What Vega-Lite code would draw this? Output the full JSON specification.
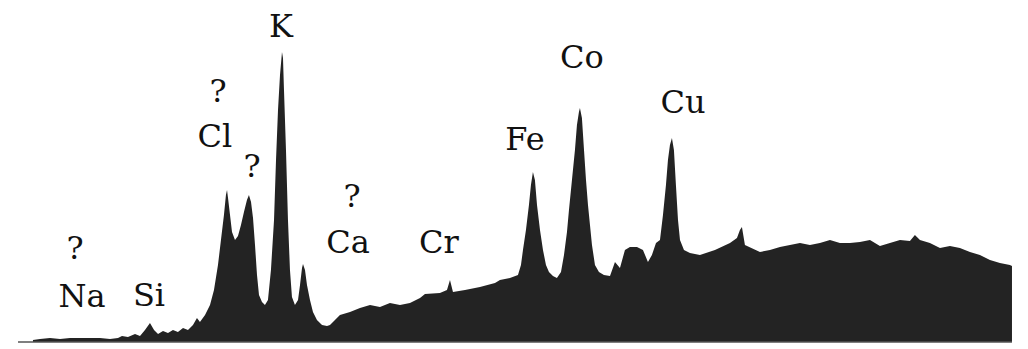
{
  "$schema": "https://vega.github.io/schema/vega-lite/v6.json",
  "width": 1028,
  "height": 349,
  "autosize": {"type": "fit", "contains": "padding"},
  "padding": 0,
  "background": "white",
  "config": {"view": {"stroke": null}},
  "datasets": {
    "spectrum": [
      {"energy": 0.317, "counts": 20}, {"energy": 0.402, "counts": 30}, {"energy": 0.522, "counts": 40},
      {"energy": 0.643, "counts": 30}, {"energy": 0.763, "counts": 40}, {"energy": 0.883, "counts": 40},
      {"energy": 1.004, "counts": 40}, {"energy": 1.124, "counts": 40}, {"energy": 1.245, "counts": 30},
      {"energy": 1.341, "counts": 40}, {"energy": 1.389, "counts": 60}, {"energy": 1.461, "counts": 50},
      {"energy": 1.546, "counts": 80}, {"energy": 1.606, "counts": 60}, {"energy": 1.666, "counts": 120},
      {"energy": 1.726, "counts": 190}, {"energy": 1.775, "counts": 120}, {"energy": 1.823, "counts": 80},
      {"energy": 1.883, "counts": 110}, {"energy": 1.943, "counts": 90}, {"energy": 2.003, "counts": 120},
      {"energy": 2.063, "counts": 100}, {"energy": 2.124, "counts": 140}, {"energy": 2.184, "counts": 120},
      {"energy": 2.244, "counts": 170}, {"energy": 2.292, "counts": 240}, {"energy": 2.328, "counts": 200},
      {"energy": 2.389, "counts": 270}, {"energy": 2.449, "counts": 370}, {"energy": 2.497, "counts": 520},
      {"energy": 2.545, "counts": 770}, {"energy": 2.581, "counts": 1020}, {"energy": 2.617, "counts": 1270},
      {"energy": 2.641, "counts": 1470}, {"energy": 2.654, "counts": 1520}, {"energy": 2.666, "counts": 1440},
      {"energy": 2.690, "counts": 1270}, {"energy": 2.714, "counts": 1100}, {"energy": 2.750, "counts": 1020},
      {"energy": 2.786, "counts": 1060}, {"energy": 2.822, "counts": 1170}, {"energy": 2.858, "counts": 1300},
      {"energy": 2.894, "counts": 1420}, {"energy": 2.918, "counts": 1470}, {"energy": 2.943, "counts": 1400},
      {"energy": 2.967, "counts": 1240}, {"energy": 2.991, "counts": 970}, {"energy": 3.015, "counts": 670},
      {"energy": 3.039, "counts": 470}, {"energy": 3.075, "counts": 400}, {"energy": 3.111, "counts": 370},
      {"energy": 3.147, "counts": 420}, {"energy": 3.183, "counts": 720}, {"energy": 3.220, "counts": 1220},
      {"energy": 3.244, "counts": 1820}, {"energy": 3.268, "counts": 2320}, {"energy": 3.292, "counts": 2670},
      {"energy": 3.316, "counts": 2900}, {"energy": 3.328, "counts": 2840}, {"energy": 3.340, "counts": 2520},
      {"energy": 3.364, "counts": 1920}, {"energy": 3.388, "counts": 1220}, {"energy": 3.412, "counts": 720},
      {"energy": 3.436, "counts": 450}, {"energy": 3.472, "counts": 370}, {"energy": 3.509, "counts": 420},
      {"energy": 3.533, "counts": 570}, {"energy": 3.557, "counts": 740}, {"energy": 3.569, "counts": 780},
      {"energy": 3.593, "counts": 720}, {"energy": 3.617, "counts": 570}, {"energy": 3.653, "counts": 420},
      {"energy": 3.689, "counts": 300}, {"energy": 3.737, "counts": 220}, {"energy": 3.798, "counts": 170},
      {"energy": 3.858, "counts": 160}, {"energy": 3.894, "counts": 170}, {"energy": 4.014, "counts": 270},
      {"energy": 4.135, "counts": 300}, {"energy": 4.255, "counts": 340}, {"energy": 4.376, "counts": 370},
      {"energy": 4.496, "counts": 350}, {"energy": 4.616, "counts": 390}, {"energy": 4.737, "counts": 370},
      {"energy": 4.857, "counts": 390}, {"energy": 4.978, "counts": 440}, {"energy": 5.038, "counts": 480},
      {"energy": 5.218, "counts": 490}, {"energy": 5.303, "counts": 520}, {"energy": 5.339, "counts": 620},
      {"energy": 5.375, "counts": 500}, {"energy": 5.520, "counts": 520}, {"energy": 5.700, "counts": 550},
      {"energy": 5.881, "counts": 590}, {"energy": 5.941, "counts": 620}, {"energy": 6.061, "counts": 640},
      {"energy": 6.158, "counts": 670}, {"energy": 6.194, "counts": 770}, {"energy": 6.218, "counts": 920},
      {"energy": 6.254, "counts": 1120}, {"energy": 6.290, "counts": 1370}, {"energy": 6.314, "counts": 1570},
      {"energy": 6.338, "counts": 1700}, {"energy": 6.362, "counts": 1620}, {"energy": 6.387, "counts": 1370},
      {"energy": 6.423, "counts": 1120}, {"energy": 6.459, "counts": 920}, {"energy": 6.495, "counts": 770},
      {"energy": 6.531, "counts": 700}, {"energy": 6.579, "counts": 660}, {"energy": 6.627, "counts": 640},
      {"energy": 6.676, "counts": 700}, {"energy": 6.712, "counts": 870}, {"energy": 6.748, "counts": 1100},
      {"energy": 6.772, "counts": 1320}, {"energy": 6.808, "counts": 1620}, {"energy": 6.844, "counts": 1920},
      {"energy": 6.868, "counts": 2170}, {"energy": 6.892, "counts": 2300}, {"energy": 6.904, "counts": 2340},
      {"energy": 6.928, "counts": 2240}, {"energy": 6.953, "counts": 1920}, {"energy": 6.977, "counts": 1620},
      {"energy": 7.001, "counts": 1370}, {"energy": 7.025, "counts": 1170}, {"energy": 7.049, "counts": 970},
      {"energy": 7.085, "counts": 770}, {"energy": 7.133, "counts": 700}, {"energy": 7.193, "counts": 670},
      {"energy": 7.266, "counts": 660}, {"energy": 7.326, "counts": 800}, {"energy": 7.386, "counts": 740},
      {"energy": 7.446, "counts": 920}, {"energy": 7.506, "counts": 950}, {"energy": 7.591, "counts": 950},
      {"energy": 7.663, "counts": 920}, {"energy": 7.723, "counts": 800}, {"energy": 7.771, "counts": 870},
      {"energy": 7.820, "counts": 990}, {"energy": 7.868, "counts": 1020}, {"energy": 7.904, "counts": 1270},
      {"energy": 7.940, "counts": 1570}, {"energy": 7.964, "counts": 1820}, {"energy": 7.988, "counts": 1970},
      {"energy": 8.012, "counts": 2040}, {"energy": 8.036, "counts": 1920}, {"energy": 8.060, "counts": 1570},
      {"energy": 8.085, "counts": 1220}, {"energy": 8.109, "counts": 1020}, {"energy": 8.157, "counts": 920},
      {"energy": 8.229, "counts": 890}, {"energy": 8.349, "counts": 870}, {"energy": 8.530, "counts": 920},
      {"energy": 8.711, "counts": 990}, {"energy": 8.795, "counts": 1040}, {"energy": 8.831, "counts": 1120},
      {"energy": 8.855, "counts": 1150}, {"energy": 8.891, "counts": 970}, {"energy": 9.072, "counts": 900},
      {"energy": 9.192, "counts": 920}, {"energy": 9.313, "counts": 950}, {"energy": 9.433, "counts": 970},
      {"energy": 9.554, "counts": 990}, {"energy": 9.674, "counts": 970}, {"energy": 9.794, "counts": 990},
      {"energy": 9.915, "counts": 1020}, {"energy": 10.035, "counts": 990}, {"energy": 10.156, "counts": 990},
      {"energy": 10.276, "counts": 1000}, {"energy": 10.397, "counts": 1020}, {"energy": 10.517, "counts": 960},
      {"energy": 10.637, "counts": 990}, {"energy": 10.758, "counts": 1020}, {"energy": 10.878, "counts": 1010},
      {"energy": 10.938, "counts": 1070}, {"energy": 10.999, "counts": 1020}, {"energy": 11.119, "counts": 990},
      {"energy": 11.240, "counts": 940}, {"energy": 11.360, "counts": 960}, {"energy": 11.480, "counts": 940},
      {"energy": 11.601, "counts": 900}, {"energy": 11.721, "counts": 870}, {"energy": 11.842, "counts": 820},
      {"energy": 11.962, "counts": 790}, {"energy": 12.082, "counts": 770}, {"energy": 12.107, "counts": 760}
    ],
    "labels": [
      {"label": "?", "energy": 0.823, "level": 830},
      {"label": "Na", "energy": 0.907, "level": 350},
      {"label": "Si", "energy": 1.714, "level": 360},
      {"label": "?", "energy": 2.545, "level": 2400},
      {"label": "Cl", "energy": 2.509, "level": 1950},
      {"label": "?", "energy": 2.955, "level": 1650},
      {"label": "K", "energy": 3.304, "level": 3050},
      {"label": "?", "energy": 4.159, "level": 1350},
      {"label": "Ca", "energy": 4.111, "level": 890},
      {"label": "Cr", "energy": 5.206, "level": 890},
      {"label": "Fe", "energy": 6.242, "level": 1920},
      {"label": "Co", "energy": 6.928, "level": 2740},
      {"label": "Cu", "energy": 8.145, "level": 2290}
    ]
  },
  "layer": [
    {
      "data": {"name": "spectrum"},
      "mark": {"type": "area", "color": "#232323", "interpolate": "linear"},
      "encoding": {
        "x": {"field": "energy", "type": "quantitative", "scale": {"domain": [-0.08, 12.3]}, "axis": null},
        "y": {"field": "counts", "type": "quantitative", "scale": {"domain": [-70, 3420]}, "axis": null}
      }
    },
    {
      "data": {"name": "spectrum"},
      "transform": [{"filter": "datum.energy < 0.33"}],
      "mark": {"type": "rule", "color": "#555555", "strokeWidth": 1.5},
      "encoding": {
        "x": {"datum": 0.137, "type": "quantitative", "scale": {"domain": [-0.08, 12.3]}, "axis": null},
        "x2": {"datum": 12.107},
        "y": {"datum": 0, "type": "quantitative", "scale": {"domain": [-70, 3420]}, "axis": null}
      }
    },
    {
      "data": {"name": "labels"},
      "mark": {"type": "text", "font": "DejaVu Serif", "fontSize": 32, "baseline": "alphabetic", "align": "center", "color": "#111111"},
      "encoding": {
        "x": {"field": "energy", "type": "quantitative", "scale": {"domain": [-0.08, 12.3]}, "axis": null},
        "y": {"field": "level", "type": "quantitative", "scale": {"domain": [-70, 3420]}, "axis": null},
        "text": {"field": "label"}
      }
    }
  ]
}
